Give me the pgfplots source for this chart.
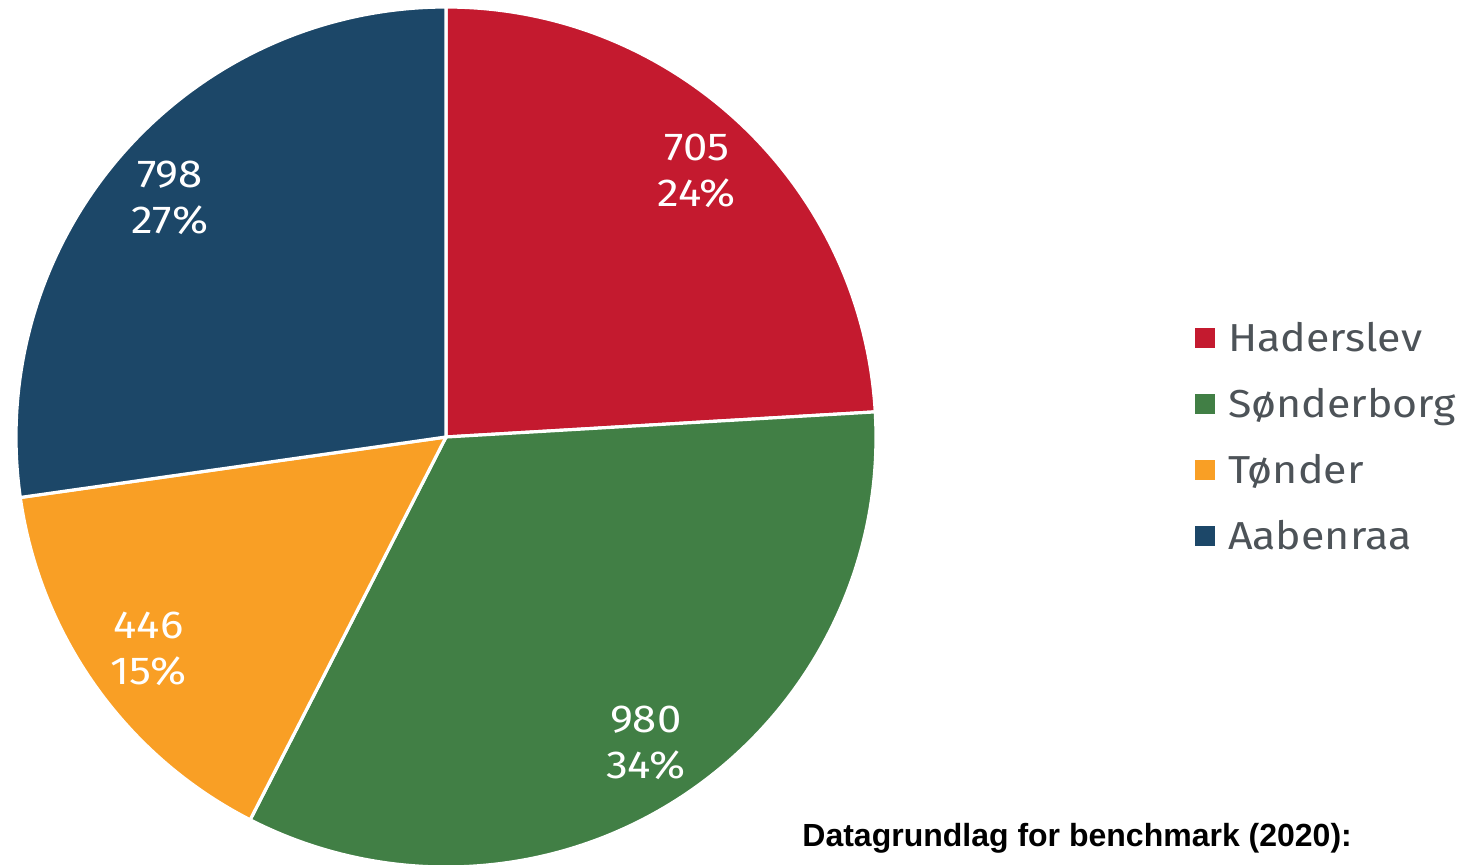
\documentclass[border=0pt]{standalone}
\usepackage{pgfplots}
\pgfplotsset{compat=1.18}
\usepackage{fontspec}
\setmainfont{Fira Sans}
\newfontfamily\legfont{Fira Sans}[FakeStretch=1.1]
\newfontfamily\labfont{Fira Sans}[FakeStretch=1.12]
\newfontfamily\arialfont{Liberation Sans}

\definecolor{hred}{RGB}{196,26,47}
\definecolor{sgreen}{RGB}{65,127,69}
\definecolor{torange}{RGB}{249,159,37}
\definecolor{ablue}{RGB}{28,71,104}
\definecolor{leggray}{RGB}{77,83,88}

% data
\def\vA{705}\def\vB{980}\def\vC{446}\def\vD{798}
\pgfmathsetmacro\tot{\vA+\vB+\vC+\vD}
\pgfmathsetmacro\aA{90}
\pgfmathsetmacro\aB{\aA-360*(\vA/\tot)}
\pgfmathsetmacro\aC{\aB-360*(\vB/\tot)}
\pgfmathsetmacro\aD{\aC-360*(\vC/\tot)}
\pgfmathsetmacro\aE{\aD-360*(\vD/\tot)}

% color, start angle, end angle, value, percent
\newcommand\slice[5]{%
  \fill[#1, draw=white, line width=1.6pt, line join=round]
    (axis cs:0,0) -- (axis cs:{cos(#2)},{sin(#2)})
    arc[start angle=#2, end angle=#3, radius=215pt] -- cycle;
  \node[text=white, align=center, font=\labfont\fontsize{19.5}{23}\selectfont]
    at (axis cs:{0.85*cos((#2+#3)/2)},{0.85*sin((#2+#3)/2)}) {#4\\#5\%};
}

\begin{document}
\begin{tikzpicture}
\useasboundingbox (0,0) rectangle (737.5pt,432pt);
\begin{axis}[
  at={(223pt,213.5pt)}, anchor=center,
  scale only axis, width=430pt, height=430pt,
  xmin=-1, xmax=1, ymin=-1, ymax=1,
  hide axis, clip=false,
  legend cell align=left,
  legend image code/.code={\fill[#1, draw=none] (0pt,-5pt) rectangle (10pt,5pt);},
  legend style={at={(axis cs:1.742,0)}, anchor=west, draw=none, fill=none,
    inner sep=0pt, outer sep=0pt, row sep=19.5pt, column sep=6.5pt,
    font=\legfont\fontsize{19.5}{22}\selectfont, text=leggray,
    nodes={inner sep=0pt, text height=13.5pt, text depth=0pt}},
]
\addlegendimage{fill=hred}\addlegendentry{Haderslev}
\addlegendimage{fill=sgreen}\addlegendentry{Sønderborg}
\addlegendimage{fill=torange}\addlegendentry{Tønder}
\addlegendimage{fill=ablue}\addlegendentry{Aabenraa}
\slice{hred}{\aA}{\aB}{705}{24}
\slice{sgreen}{\aB}{\aC}{980}{34}
\slice{torange}{\aC}{\aD}{446}{15}
\slice{ablue}{\aD}{\aE}{798}{27}
\end{axis}
\node[anchor=base west, inner sep=0pt, font=\arialfont\bfseries\fontsize{16}{20}\selectfont]
  at (401pt,9pt) {Datagrundlag for benchmark (2020):};
\end{tikzpicture}
\end{document}
